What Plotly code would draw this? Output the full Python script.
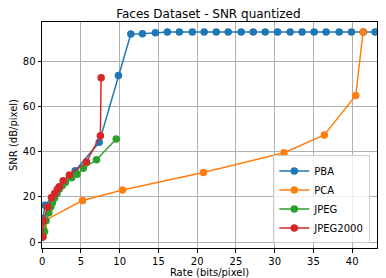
import plotly.graph_objects as go

pba_x = [0.05, 0.1, 0.35, 4.25, 7.35, 9.83, 11.43, 12.93, 14.6, 16.15, 17.69, 19.37, 20.9, 22.46,
         24.0, 25.68, 27.23, 28.77, 30.37, 32.0, 33.54, 35.09, 36.64, 38.31, 39.91, 41.45, 42.95]
pba_y = [2.3, 10.5, 16.3, 31.5, 44.1, 73.6, 92.0, 92.1, 92.6, 92.9, 92.9, 92.9, 92.9, 92.9,
         92.9, 92.9, 92.9, 92.9, 92.9, 92.9, 92.9, 92.9, 92.9, 92.9, 92.9, 92.9, 92.9]

pca_x = [0.05, 0.15, 0.35, 5.2, 10.35, 20.8, 31.2, 36.4, 40.46, 41.4]
pca_y = [2.5, 6.2, 9.6, 18.4, 23.0, 30.8, 39.5, 47.4, 64.8, 92.9]

jpeg_x = [0.1, 0.3, 0.5, 0.85, 1.1, 1.3, 1.6, 1.9, 2.2, 2.6, 3.0, 3.8, 4.5, 5.3, 7.0, 9.55]
jpeg_y = [2.5, 4.7, 9.5, 13.0, 15.5, 17.3, 19.5, 21.5, 23.5, 25.0, 26.5, 28.5, 30.0, 32.6, 36.4, 45.6]

j2k_x = [0.05, 0.15, 0.7, 1.2, 1.6, 1.95, 2.2, 2.7, 3.5, 5.7, 7.5, 7.6]
j2k_y = [2.3, 9.3, 15.5, 19.7, 21.5, 23.4, 24.5, 27.1, 29.7, 35.4, 47.0, 72.7]

series = [
    ("PBA", pba_x, pba_y, "#1f77b4"),
    ("PCA", pca_x, pca_y, "#ff7f0e"),
    ("JPEG", jpeg_x, jpeg_y, "#2ca02c"),
    ("JPEG2000", j2k_x, j2k_y, "#d62728"),
]

fig = go.Figure()
for name, xs, ys, c in series:
    fig.add_trace(go.Scatter(x=xs, y=ys, name=name, mode="lines+markers",
                             line=dict(color=c, width=1.5),
                             marker=dict(color=c, size=7.5)))

font = "DejaVu Sans"
axis_common = dict(showline=True, linecolor="black", linewidth=1, mirror=True,
                   ticks="outside", ticklen=3.5, tickcolor="black", automargin=False,
                   showgrid=True, gridcolor="#b0b0b0", gridwidth=1, zeroline=False,
                   tickfont=dict(family=font, size=10, color="black"))

# page body has an 8px margin, so the figure is sized / offset to compensate
fig.update_layout(
    width=378, height=270,
    margin=dict(l=34, r=9, t=14, b=30, autoexpand=False),
    paper_bgcolor="white", plot_bgcolor="white",
    title=dict(text="Faces Dataset - SNR quantized", x=0.53, xanchor="center",
               y=0.993, yanchor="top", font=dict(family=font, size=12, color="black")),
    xaxis=dict(range=[-0.03, 43.2], tickvals=[0, 5, 10, 15, 20, 25, 30, 35, 40],
               title=dict(text="Rate (bits/pixel)", font=dict(family=font, size=10, color="black"), standoff=0),
               **axis_common),
    yaxis=dict(range=[-2.6, 97.3], tickvals=[0, 20, 40, 60, 80],
               title=dict(text="SNR (dB/pixel)", font=dict(family=font, size=10, color="black"), standoff=8),
               **axis_common),
    legend=dict(x=0.98, xanchor="right", y=0.02, yanchor="bottom",
                bgcolor="rgba(255,255,255,0.8)", bordercolor="#cccccc", borderwidth=1,
                font=dict(family=font, size=10, color="black"), tracegroupgap=0,
                itemwidth=30),
    showlegend=True,
)

fig.write_html("out.html")
